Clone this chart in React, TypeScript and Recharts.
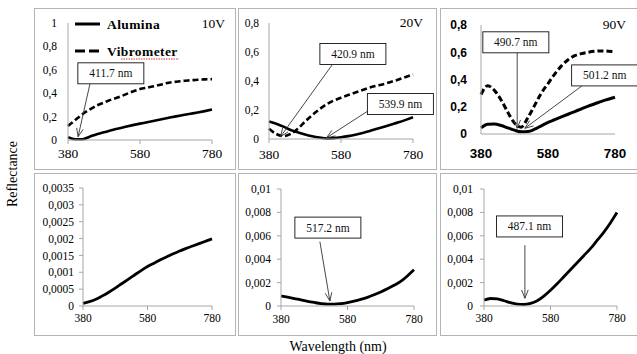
import React from 'react';
import { LineChart, Line, XAxis, YAxis, ReferenceLine, ReferenceDot, Legend } from 'recharts';

// shared wavelength grid (nm), 20 nm steps
const wavelengths = [380, 400, 420, 440, 460, 480, 500, 520, 540, 560, 580, 600, 620, 640, 660, 680, 700, 720, 740, 760, 780];

// top row (reflectance)
const alumina10V = [0.025, 0.006, 0.006, 0.028, 0.05, 0.066, 0.083, 0.098, 0.113, 0.127, 0.14, 0.152, 0.165, 0.178, 0.19, 0.202, 0.213, 0.224, 0.235, 0.247, 0.26];
const vibrometer10V = [0.12, 0.17, 0.22, 0.26, 0.295, 0.32, 0.345, 0.365, 0.39, 0.415, 0.435, 0.448, 0.46, 0.475, 0.49, 0.498, 0.505, 0.51, 0.515, 0.518, 0.52];
const alumina20V = [0.12, 0.105, 0.085, 0.062, 0.046, 0.031, 0.019, 0.01, 0.004, 0.006, 0.012, 0.02, 0.03, 0.042, 0.055, 0.07, 0.085, 0.1, 0.115, 0.132, 0.15];
const vibrometer20V = [0.07, 0.035, 0.02, 0.035, 0.07, 0.12, 0.165, 0.205, 0.24, 0.265, 0.285, 0.303, 0.32, 0.338, 0.355, 0.368, 0.38, 0.395, 0.41, 0.428, 0.445];
const alumina90V = [0.045, 0.072, 0.074, 0.062, 0.045, 0.028, 0.016, 0.018, 0.035, 0.06, 0.085, 0.105, 0.125, 0.145, 0.165, 0.185, 0.205, 0.222, 0.24, 0.255, 0.27];
const vibrometer90V = [0.29, 0.355, 0.32, 0.25, 0.16, 0.08, 0.05, 0.12, 0.21, 0.3, 0.37, 0.44, 0.5, 0.545, 0.575, 0.59, 0.6, 0.607, 0.61, 0.608, 0.605];

// bottom row (reflectance, small scale)
const lower10V = [0.00008, 0.00013, 0.0002, 0.0003, 0.00041, 0.00053, 0.00066, 0.00079, 0.00092, 0.00105, 0.00117, 0.00127, 0.00137, 0.00146, 0.00155, 0.00163, 0.00171, 0.00178, 0.00185, 0.00192, 0.00199];
const lower20V = [0.00085, 0.00075, 0.00064, 0.00052, 0.0004, 0.0003, 0.00021, 0.00016, 0.00016, 0.0002, 0.00029, 0.00041, 0.00056, 0.00074, 0.00096, 0.0012, 0.00147, 0.00177, 0.0021, 0.00257, 0.0031];
const lower90V = [0.0005, 0.00064, 0.0006, 0.00045, 0.00028, 0.00016, 0.00013, 0.00022, 0.00045, 0.00085, 0.00135, 0.0019, 0.0025, 0.0031, 0.0037, 0.0043, 0.0049, 0.0056, 0.0063, 0.0071, 0.008];

const xTicks = [380, 580, 780];
const ticks10V = [0, 0.2, 0.4, 0.6, 0.8, 1];
const ticksTop = [0, 0.2, 0.4, 0.6, 0.8];
const ticksLower10V = [0, 0.0005, 0.001, 0.0015, 0.002, 0.0025, 0.003, 0.0035];
const ticksLower = [0, 0.002, 0.004, 0.006, 0.008, 0.01];

// callouts: box centre, arrow tail and arrow tip, all in data units
const notes10V = [{ label: '411.7 nm', box: [499, 0.57], tail: [441, 0.48], tip: [408, 0.028] }];
const notes20V = [
  { label: '420.9 nm', box: [613, 0.586], tail: [555, 0.51], tip: [412, 0.016] },
  { label: '539.9 nm', box: [745, 0.241], tail: [659, 0.2], tip: [540, 0.009] },
];
const notes90V = [
  { label: '490.7 nm', box: [484, 0.673], tail: [488, 0.605], tip: [488, 0.042] },
  { label: '501.2 nm', box: [749, 0.43], tail: [685, 0.36], tip: [511, 0.042] },
];
const notesLower20V = [{ label: '517.2 nm', box: [521, 0.0067], tail: [497, 0.0055], tip: [527, 0.00043] }];
const notesLower90V = [{ label: '487.1 nm', box: [517, 0.0068], tail: [503, 0.0052], tip: [503, 0.00066] }];

const SERIF = '"Liberation Serif", "Times New Roman", serif';
const SANS = '"Liberation Sans", Arial, sans-serif';
const AXIS = '#a6a6a6';

const fmt = (v: number) => String(v).replace('.', ',');

const Arrow = (props: any) => {
  const { x1, y1, x2, y2 } = props;
  const ang = Math.atan2(y2 - y1, x2 - x1);
  const len = 9;
  const spread = 0.38;
  const ax = x2 - len * Math.cos(ang - spread);
  const ay = y2 - len * Math.sin(ang - spread);
  const bx = x2 - len * Math.cos(ang + spread);
  const by = y2 - len * Math.sin(ang + spread);
  return (
    <g>
      <line x1={x1} y1={y1} x2={x2} y2={y2} stroke="#333" strokeWidth={0.9} />
      <polyline points={`${ax},${ay} ${x2},${y2} ${bx},${by}`} fill="none" stroke="#333" strokeWidth={0.9} />
    </g>
  );
};

const NoteBox = ({ cx, cy, label }: { cx: number; cy: number; label: string }) => (
  <g>
    <rect x={cx - 33} y={cy - 10.5} width={66} height={21} fill="#fff" stroke="#111" strokeWidth={0.9} />
    <text x={cx} y={cy + 4} textAnchor="middle" fontFamily={SERIF} fontSize={11.5} fill="#111">
      {label}
    </text>
  </g>
);

const SeriesKey = ({ series }: { series: any[] }) => (
  <svg width={140} height={52} style={{ display: 'block' }}>
    {series.map((s, i) => {
      const y = 12 + i * 27;
      return (
        <g key={s.key}>
          <line x1={1} x2={26} y1={y} y2={y} stroke="#000" strokeWidth={3} strokeDasharray={s.dashed ? '10 4' : undefined} />
          <text x={33} y={y + 5} fontFamily={SERIF} fontWeight="bold" fontSize={13.5} letterSpacing={0.4} fill="#000">
            {s.name}
          </text>
        </g>
      );
    })}
    <line x1={47} x2={105} y1={47} y2={47} stroke="#d33" strokeWidth={1.1} strokeDasharray="1.5 1" />
  </svg>
);

const Panel = (p: any) => {
  const { box, plot, yMax, yTicks, series, notes, tag, legend, sans, xFont, yFont, xGap, yGap, tickLines, lineWidth } = p;
  const width = box.r - box.l;
  const height = box.b - box.t;
  const rows = wavelengths.map((w, i) => {
    const r: any = { w };
    series.forEach((s: any) => (r[s.key] = s.values[i]));
    return r;
  });
  const family = sans ? SANS : SERIF;
  const weight = sans ? 'bold' : 'normal';
  return (
    <>
      <div style={{ position: 'absolute', left: box.l, top: box.t, width, height }}>
        <LineChart
          width={width}
          height={height}
          data={rows}
          margin={{ top: plot.top - box.t, right: box.r - plot.x1, bottom: 0, left: 0 }}
        >
          <XAxis
            type="number"
            dataKey="w"
            domain={[380, 780]}
            ticks={xTicks}
            interval={0}
            height={box.b - plot.bottom}
            stroke={AXIS}
            tickLine={tickLines ? { stroke: AXIS } : false}
            tickSize={4}
            tickMargin={xGap - 4}
            tick={{ fill: '#000', fontSize: xFont, fontFamily: family, fontWeight: weight }}
          />
          <YAxis
            type="number"
            domain={[0, yMax]}
            ticks={yTicks}
            interval={0}
            width={plot.x0 - box.l}
            stroke={AXIS}
            tickLine={tickLines === 'both' ? { stroke: AXIS } : false}
            tickSize={4}
            tickMargin={yGap - 4}
            tickFormatter={fmt}
            tick={{ fill: '#000', fontSize: yFont, fontFamily: family, fontWeight: weight }}
          />
          {series.map((s: any) => (
            <Line
              key={s.key}
              type="monotone"
              dataKey={s.key}
              name={s.name}
              stroke="#000"
              strokeWidth={lineWidth}
              strokeDasharray={s.dashed ? '6 3' : undefined}
              dot={false}
              isAnimationActive={false}
            />
          ))}
          {notes.map((n: any) => (
            <ReferenceLine
              key={'a' + n.label}
              ifOverflow="visible"
              segment={[{ x: n.tail[0], y: n.tail[1] }, { x: n.tip[0], y: n.tip[1] }]}
              shape={Arrow}
            />
          ))}
          {notes.map((n: any) => (
            <ReferenceDot
              key={'b' + n.label}
              ifOverflow="visible"
              x={n.box[0]}
              y={n.box[1]}
              shape={(d: any) => <NoteBox cx={d.cx} cy={d.cy} label={n.label} />}
            />
          ))}
          {legend ? (
            <Legend
              layout="vertical"
              align="center"
              verticalAlign="middle"
              wrapperStyle={{ left: 40, top: 4, width: 140, height: 52 }}
              content={() => <SeriesKey series={series} />}
            />
          ) : null}
        </LineChart>
        {tag ? (
          <div
            style={{
              position: 'absolute',
              left: tag.x - box.l,
              top: tag.y - box.t,
              transform: 'translate(-100%, -50%)',
              fontFamily: SERIF,
              fontSize: 13.5,
              lineHeight: 1,
              whiteSpace: 'nowrap',
            }}
          >
            {tag.text}
          </div>
        ) : null}
      </div>
      <div
        style={{
          position: 'absolute',
          left: box.l,
          top: box.t,
          width: width,
          height: height,
          border: '1px solid #b4b4b4',
          boxSizing: 'border-box',
          pointerEvents: 'none',
        }}
      />
    </>
  );
};

export default function App() {
  return (
    <div style={{ position: 'absolute', left: 0, top: 0, width: 637, height: 354, overflow: 'hidden', background: '#fff' }}>
      <Panel
        box={{ l: 34, t: 8, r: 236, b: 170 }}
        plot={{ x0: 68, x1: 212, top: 23, bottom: 140 }}
        yMax={1}
        yTicks={ticks10V}
        series={[
          { key: 'alumina', name: 'Alumina', values: alumina10V },
          { key: 'vibrometer', name: 'Vibrometer', values: vibrometer10V, dashed: true },
        ]}
        notes={notes10V}
        tag={{ text: '10V', x: 225, y: 24 }}
        legend
        xFont={13.5}
        yFont={11.5}
        xGap={8}
        yGap={11}
        tickLines="x"
        lineWidth={2.6}
      />
      <Panel
        box={{ l: 238, t: 8, r: 437, b: 170 }}
        plot={{ x0: 269, x1: 413, top: 23, bottom: 139 }}
        yMax={0.8}
        yTicks={ticksTop}
        series={[
          { key: 'alumina', name: 'Alumina', values: alumina20V },
          { key: 'vibrometer', name: 'Vibrometer', values: vibrometer20V, dashed: true },
        ]}
        notes={notes20V}
        tag={{ text: '20V', x: 423, y: 23 }}
        xFont={13.5}
        yFont={11.5}
        xGap={10}
        yGap={10}
        tickLines="x"
        lineWidth={2.6}
      />
      <Panel
        box={{ l: 440, t: 8, r: 650, b: 170 }}
        plot={{ x0: 481, x1: 615, top: 25, bottom: 134 }}
        yMax={0.8}
        yTicks={ticksTop}
        series={[
          { key: 'alumina', name: 'Alumina', values: alumina90V },
          { key: 'vibrometer', name: 'Vibrometer', values: vibrometer90V, dashed: true },
        ]}
        notes={notes90V}
        tag={{ text: '90V', x: 626, y: 25 }}
        sans
        xFont={13.4}
        yFont={12}
        xGap={14}
        yGap={14}
        tickLines={false}
        lineWidth={3}
      />
      <Panel
        box={{ l: 34, t: 173, r: 236, b: 336 }}
        plot={{ x0: 83, x1: 212, top: 188, bottom: 306 }}
        yMax={0.0035}
        yTicks={ticksLower10V}
        series={[{ key: 'alumina', name: 'Alumina', values: lower10V }]}
        notes={[]}
        xFont={11.5}
        yFont={11.5}
        xGap={8}
        yGap={9}
        tickLines="both"
        lineWidth={2.8}
      />
      <Panel
        box={{ l: 238, t: 173, r: 437, b: 336 }}
        plot={{ x0: 281, x1: 414, top: 189, bottom: 306 }}
        yMax={0.01}
        yTicks={ticksLower}
        series={[{ key: 'alumina', name: 'Alumina', values: lower20V }]}
        notes={notesLower20V}
        xFont={11.5}
        yFont={11.5}
        xGap={9}
        yGap={10}
        tickLines="both"
        lineWidth={2.8}
      />
      <Panel
        box={{ l: 440, t: 173, r: 650, b: 336 }}
        plot={{ x0: 484, x1: 617, top: 189, bottom: 306 }}
        yMax={0.01}
        yTicks={ticksLower}
        series={[{ key: 'alumina', name: 'Alumina', values: lower90V }]}
        notes={notesLower90V}
        xFont={11.5}
        yFont={11.5}
        xGap={8}
        yGap={11}
        tickLines="both"
        lineWidth={2.8}
      />
      <div
        style={{
          position: 'absolute',
          left: 13,
          top: 174,
          transform: 'translate(-50%, -50%) rotate(-90deg)',
          fontFamily: SERIF,
          fontSize: 14,
          lineHeight: 1,
          whiteSpace: 'nowrap',
        }}
      >
        Reflectance
      </div>
      <div
        style={{
          position: 'absolute',
          left: 338,
          top: 347,
          transform: 'translate(-50%, -50%)',
          fontFamily: SERIF,
          fontSize: 14,
          lineHeight: 1,
          whiteSpace: 'nowrap',
        }}
      >
        Wavelength (nm)
      </div>
    </div>
  );
}
